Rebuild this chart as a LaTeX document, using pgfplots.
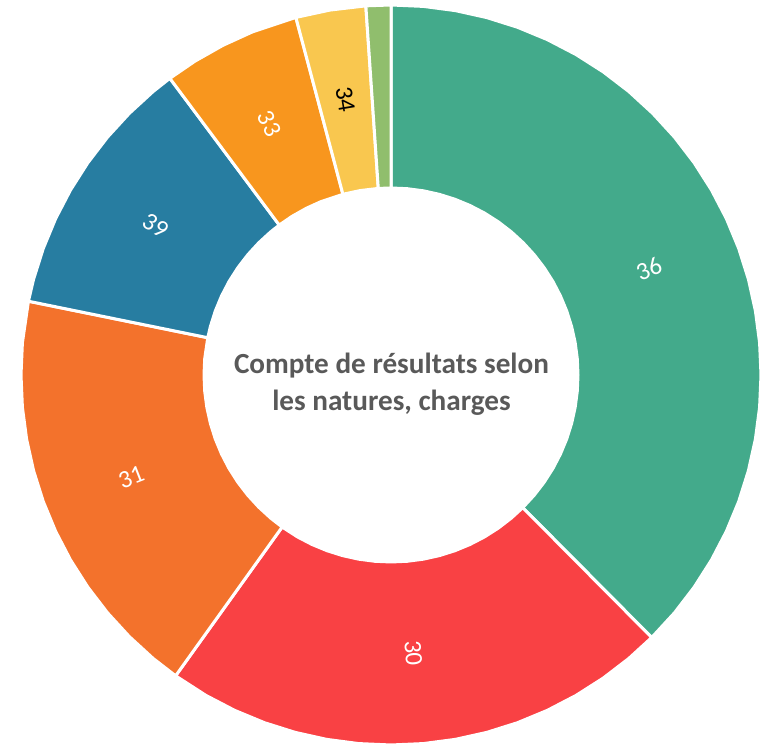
\documentclass[border=0pt]{standalone}
\usepackage{fontspec}
\setmainfont{Carlito}
\usepackage{pgfplots}
\pgfplotsset{compat=1.18}
\definecolor{cGreen}{HTML}{43AA8B}
\definecolor{cRed}{HTML}{F94144}
\definecolor{cOrange}{HTML}{F3722C}
\definecolor{cBlue}{HTML}{277DA1}
\definecolor{cOrangeB}{HTML}{F8961E}
\definecolor{cYellow}{HTML}{F9C74F}
\definecolor{cLGreen}{HTML}{90BE6D}
\definecolor{cTitle}{HTML}{595959}
\begin{document}
\begin{tikzpicture}
\begin{axis}[
  scale only axis, width=383.5pt, height=374pt,
  xmin=-391, xmax=376, ymin=-373, ymax=375,
  hide axis, clip=false, no markers,
  every axis plot/.append style={draw=white, line width=1.5pt, line join=round, data cs=polar},
]
% Slice 1 (green, 36)
\addplot[fill=cGreen] coordinates {
(90,370)(85,370)(80,370)(75,370)(70,370)(65,370)(60,370)(55,370)(50,370)(45,370)(40,370)(35,370)(30,370)(25,370)(20,370)(15,370)(10,370)(5,370)(0,370)(-5,370)(-10,370)(-15,370)(-20,370)(-25,370)(-30,370)(-35,370)(-40,370)(-45.2,370)
(-45.2,187)(-40,187)(-35,187)(-30,187)(-25,187)(-20,187)(-15,187)(-10,187)(-5,187)(0,187)(5,187)(10,187)(15,187)(20,187)(25,187)(30,187)(35,187)(40,187)(45,187)(50,187)(55,187)(60,187)(65,187)(70,187)(75,187)(80,187)(85,187)(90,187)
} -- cycle;
% Slice 2 (red, 30)
\addplot[fill=cRed] coordinates {
(-45.2,370)(-50,370)(-55,370)(-60,370)(-65,370)(-70,370)(-75,370)(-80,370)(-85,370)(-90,370)(-95,370)(-100,370)(-105,370)(-110,370)(-115,370)(-120,370)(-125.6,370)
(-125.6,187)(-120,187)(-115,187)(-110,187)(-105,187)(-100,187)(-95,187)(-90,187)(-85,187)(-80,187)(-75,187)(-70,187)(-65,187)(-60,187)(-55,187)(-50,187)(-45.2,187)
} -- cycle;
% Slice 3 (orange, 31)
\addplot[fill=cOrange] coordinates {
(-125.6,370)(-130,370)(-135,370)(-140,370)(-145,370)(-150,370)(-155,370)(-160,370)(-165,370)(-170,370)(-175,370)(-180,370)(-185,370)(-191.5,370)
(-191.5,187)(-185,187)(-180,187)(-175,187)(-170,187)(-165,187)(-160,187)(-155,187)(-150,187)(-145,187)(-140,187)(-135,187)(-130,187)(-125.6,187)
} -- cycle;
% Slice 4 (blue, 39)
\addplot[fill=cBlue] coordinates {
(-191.5,370)(-195,370)(-200,370)(-205,370)(-210,370)(-215,370)(-220,370)(-225,370)(-230,370)(-233.3,370)
(-233.3,187)(-230,187)(-225,187)(-220,187)(-215,187)(-210,187)(-205,187)(-200,187)(-195,187)(-191.5,187)
} -- cycle;
% Slice 5 (orange, 33)
\addplot[fill=cOrangeB] coordinates {
(-233.3,370)(-238,370)(-243,370)(-248,370)(-255.1,370)
(-255.1,187)(-248,187)(-243,187)(-238,187)(-233.3,187)
} -- cycle;
% Slice 6 (yellow, 34)
\addplot[fill=cYellow] coordinates {
(-255.1,370)(-260.5,370)(-266.1,370)
(-266.1,187)(-260.5,187)(-255.1,187)
} -- cycle;
% Slice 7 (light green)
\addplot[fill=cLGreen] coordinates {
(-266.1,370)(-270,370)
(-270,187)(-266.1,187)
} -- cycle;
\path (rel axis cs:0,0) rectangle (rel axis cs:1,1);
\begin{scope}[every node/.style={font=\fontsize{12.5}{14}\selectfont, text=white}]
\node[rotate=22.4] at (axis cs:257.9,106.3) {36};
\node[rotate=-85.4] at (axis cs:22.4,-278.1) {30};
\node[rotate=21.45] at (axis cs:-259.7,-102.0) {31};
\node[rotate=-32.4] at (axis cs:-235.6,149.5) {39};
\node[rotate=-64.2] at (axis cs:-121.4,251.2) {33};
\node[rotate=-80.6, text=black] at (axis cs:-45.6,275.3) {34};
\end{scope}
\node[align=center, text=cTitle, font=\bfseries\fontsize{14.6}{18.5}\selectfont] at (axis cs:0.5,-9) {Compte de résultats selon\\les natures, charges};
\end{axis}
\end{tikzpicture}
\end{document}
